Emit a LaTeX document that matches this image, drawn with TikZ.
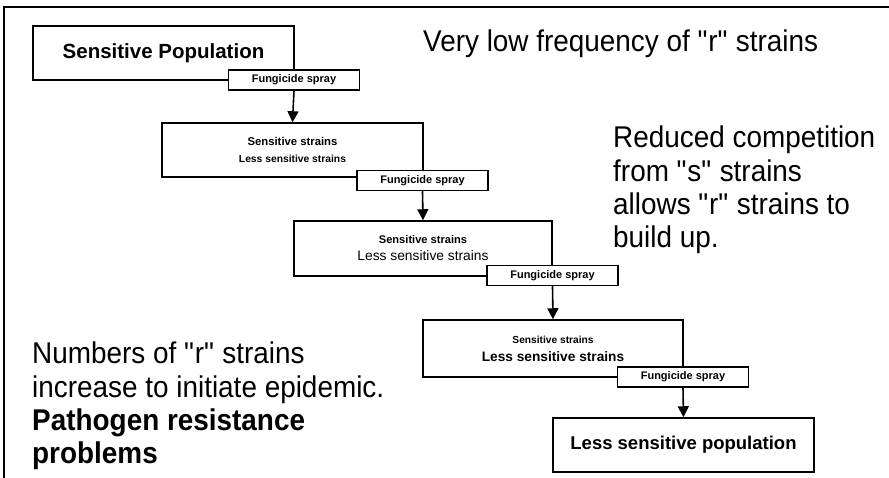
\documentclass[tikz,border=0pt]{standalone}
\usepackage{fontspec}
\setmainfont{Liberation Sans}
% slightly tall, slightly condensed face for the commentary lines
\newfontfamily\tallsans[FakeStretch=0.93]{Liberation Sans}
\usetikzlibrary{arrows.meta}
\newcommand{\qq}[1]{\textquotedbl#1\textquotedbl}
\begin{document}
\begin{tikzpicture}[x=1pt,y=-1pt,
  stage/.style={draw,line width=1.5pt,inner sep=0pt,minimum width=261pt,minimum height=54pt,align=center},
  spray/.style={draw,fill=white,line width=1.5pt,inner sep=0pt,minimum width=131pt,minimum height=20pt,
    font=\fontsize{11}{11}\selectfont\bfseries},
  flow/.style={line width=1.6pt,-{Triangle[length=11pt,width=11pt]}},
  note/.style={anchor=base west,inner sep=0pt,font=\tallsans\fontsize{30}{33.5}\selectfont},
  frame/.style={line width=1.2pt}]
\useasboundingbox (0,0) rectangle (889,478);

% open frame: top and left edges only
\coordinate (ftl) at (4,7);
\coordinate (ftr) at (889,7);
\coordinate (fbl) at (4,478);
\draw[frame] (ftr) -- (ftl) -- (fbl);

% population stages
\node[stage,font=\fontsize{20.5}{24}\selectfont\bfseries] (b1) at (163.5,53) {Sensitive Population};
\node[stage,font=\fontsize{11.3}{17}\selectfont\bfseries] (b2) at (292.5,150)
  {Sensitive strains\\\fontsize{10.3}{17}\selectfont Less sensitive strains};
\node[stage,minimum width=258pt,minimum height=55pt,font=\fontsize{11.1}{17}\selectfont\bfseries] (b3) at (423,248.5)
  {Sensitive strains\\\fontsize{13.8}{17}\selectfont\mdseries Less sensitive strains};
\node[stage,minimum width=260pt,minimum height=57pt,font=\fontsize{10.2}{18}\selectfont\bfseries] (b4) at (553,348.5)
  {Sensitive strains\\\fontsize{13.7}{18}\selectfont Less sensitive strains};
\node[stage,font=\fontsize{18.5}{22}\selectfont\bfseries] (b5) at (683.5,445) {Less sensitive population};

% spray steps, sitting on the lower right corner of each stage
\node[spray] (s1) at (294,80) {Fungicide spray};
\node[spray] (s2) at (422.5,180.5) {Fungicide spray};
\node[spray] (s3) at (552.5,275.5) {Fungicide spray};
\node[spray] (s4) at (683,377) {Fungicide spray};

\draw[flow] (s1.south) -- (b2.north);
\draw[flow] (s2.south) -- (b3.north);
\draw[flow] (s3.south) -- (b4.north);
\draw[flow] (s4.south) -- (b5.north);

% commentary
\node[note] (low) at (423,52) {Very low frequency of \qq{r} strains};
\node[note] (rc1) at (613,148) {Reduced competition};
\node[note] (rc2) at (613,181.5) {from \qq{s} strains};
\node[note] (rc3) at (613,215) {allows \qq{r} strains to};
\node[note] (rc4) at (613,248) {build up.};
\node[note] (nr1) at (32,363) {Numbers of \qq{r} strains};
\node[note] (nr2) at (32,397) {increase to initiate epidemic.};
\node[note,font=\tallsans\fontsize{30}{33.5}\selectfont\bfseries] (pr1) at (32,430) {Pathogen resistance};
\node[note,font=\tallsans\fontsize{30}{33.5}\selectfont\bfseries] (pr2) at (32,463) {problems};
\end{tikzpicture}
\end{document}
